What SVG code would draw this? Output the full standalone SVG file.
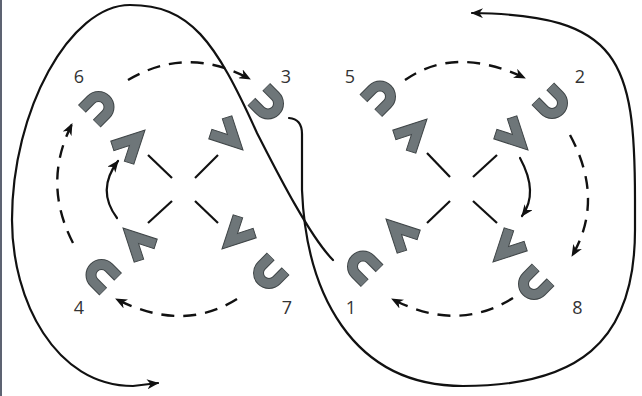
<svg xmlns="http://www.w3.org/2000/svg" xmlns:xlink="http://www.w3.org/1999/xlink" width="642" height="396" viewBox="0 0 642 396">
<style>
.bg{fill:#ffffff}
.uo{fill:none;stroke:#3f4547;stroke-width:11;stroke-linecap:butt}
.ui{fill:none;stroke:#6e7679;stroke-width:9;stroke-linecap:butt}
.chev{fill:#6e7679;stroke:#3f4547;stroke-width:1;stroke-linejoin:miter}
.num{font-family:"Open Sans","DejaVu Sans",sans-serif;font-size:18px;fill:#333333;text-anchor:middle}
.solid{fill:none;stroke:#111111;stroke-width:2.2;stroke-linecap:round}
.dash{fill:none;stroke:#111111;stroke-width:2.4;stroke-dasharray:13 9}
.cross{fill:none;stroke:#111111;stroke-width:2.2}
.edge{stroke:#5d6372;stroke-width:2}
</style>
<defs>
<marker id="ah" viewBox="0 0 12 10" refX="11" refY="5" markerWidth="12" markerHeight="10" markerUnits="userSpaceOnUse" orient="auto">
<path d="M0,0 L12,5 L0,10 L3.5,5 Z" fill="#111111" stroke="none"/>
</marker>
<g id="u">
<path class="uo" d="M-10.5,13 V0 A10.5,10.5 0 0 1 10.5,0 V13"/>
<path class="ui" d="M-10.5,12.5 V0 A10.5,10.5 0 0 1 10.5,0 V12.5"/>
</g>
<polygon id="chev" class="chev" points="0,0 16.3,32.1 7.4,36.6 0,22 -7.4,36.6 -16.3,32.1"/>
</defs>
<rect class="bg" x="0" y="0" width="642" height="396"/>
<line class="edge" x1="1" y1="0" x2="1" y2="396"/>

<g id="cross-left">
<line class="cross" x1="148" y1="155" x2="172" y2="178"/>
<line class="cross" x1="195" y1="178" x2="218" y2="155"/>
<line class="cross" x1="148" y1="223" x2="172" y2="201"/>
<line class="cross" x1="195" y1="201" x2="218" y2="223"/>
</g>
<g id="cross-right">
<line class="cross" x1="427" y1="153" x2="450" y2="177"/>
<line class="cross" x1="473" y1="177" x2="497" y2="155"/>
<line class="cross" x1="427" y1="223" x2="450" y2="201"/>
<line class="cross" x1="473" y1="201" x2="497" y2="223"/>
</g>

<g id="chevrons-left">
<use xlink:href="#chev" transform="translate(145,130) rotate(45)"/>
<use xlink:href="#chev" transform="translate(243,150) rotate(135)"/>
<use xlink:href="#chev" transform="translate(123,228) rotate(-45)"/>
<use xlink:href="#chev" transform="translate(222,249) rotate(-135)"/>
</g>
<g id="chevrons-right">
<use xlink:href="#chev" transform="translate(427,119) rotate(45)"/>
<use xlink:href="#chev" transform="translate(528,150) rotate(135)"/>
<use xlink:href="#chev" transform="translate(386,219) rotate(-45)"/>
<use xlink:href="#chev" transform="translate(493,262) rotate(-135)"/>
</g>

<g id="node6"><use xlink:href="#u" transform="translate(98.5,107) rotate(45)"/><text class="num" x="79" y="83">6</text></g>
<g id="node3"><use xlink:href="#u" transform="translate(268,103.5) rotate(135)"/><text class="num" x="286" y="83">3</text></g>
<g id="node4"><use xlink:href="#u" transform="translate(101.5,275) rotate(-45)"/><text class="num" x="79" y="314">4</text></g>
<g id="node7"><use xlink:href="#u" transform="translate(269,273) rotate(-135)"/><text class="num" x="287" y="314">7</text></g>
<g id="node5"><use xlink:href="#u" transform="translate(380,96.5) rotate(45)"/><text class="num" x="350" y="83">5</text></g>
<g id="node2"><use xlink:href="#u" transform="translate(552,103) rotate(135)"/><text class="num" x="580" y="83">2</text></g>
<g id="node1"><use xlink:href="#u" transform="translate(363,266.5) rotate(-45)"/><text class="num" x="351" y="314">1</text></g>
<g id="node8"><use xlink:href="#u" transform="translate(534,284) rotate(-135)"/><text class="num" x="577.5" y="314">8</text></g>

<g id="connectors">
<path class="dash" d="M128,80 Q187,45 250,79" marker-end="url(#ah)"/>
<path class="dash" d="M73,243 Q42,183 72,124" marker-end="url(#ah)"/>
<path class="dash" d="M237,299 Q183,333 116,299" marker-end="url(#ah)"/>
<path class="solid" d="M117,218 Q96,190 118,161" marker-end="url(#ah)"/>
<path class="dash" d="M405,80 Q455,45 525,78" marker-end="url(#ah)"/>
<path class="dash" d="M570,135 Q605,200 572,256" marker-end="url(#ah)"/>
<path class="dash" d="M513,298 Q457,333 392,299" marker-end="url(#ah)"/>
<path class="solid" d="M520,158 Q539,193 522,216" marker-end="url(#ah)"/>
<path class="solid" d="M289,118 Q302,119 302,134 L302,190 C306,290 350,386 463,386 C575,386 635,345 635,230 L635,200 C635,60 620,15 472,13" marker-end="url(#ah)"/>
<path class="solid" d="M333,260 C308,235 271,160 257,133 C215,40 190,5 130,5 C70,5 12,110 12,220 C12,300 55,386 133,386 L158,383" marker-end="url(#ah)"/>
</g>
</svg>
